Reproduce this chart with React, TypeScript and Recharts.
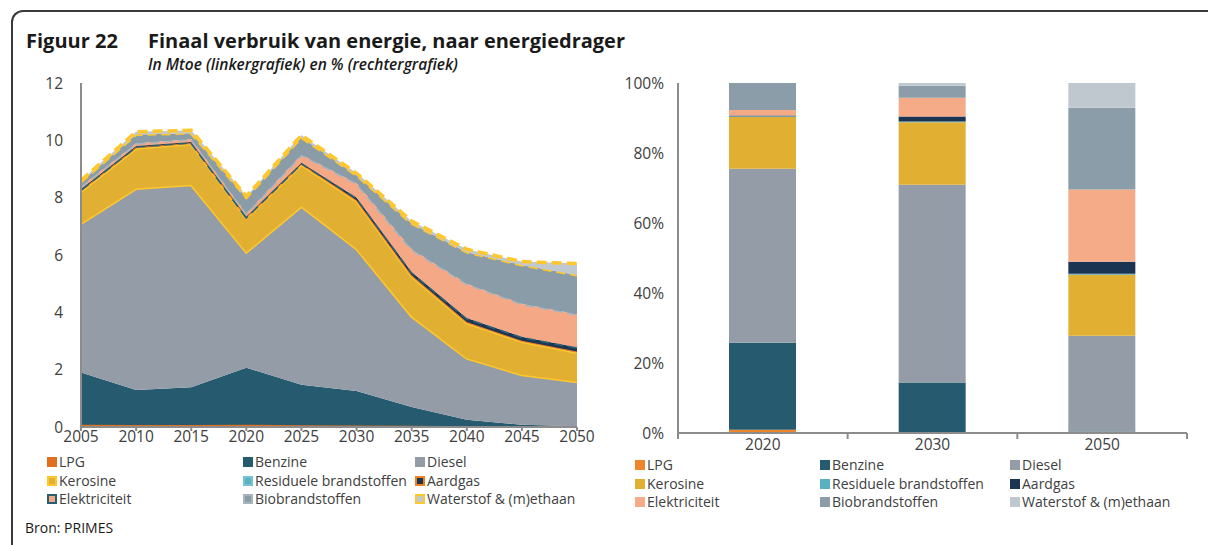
import React from 'react';
import { AreaChart, Area, BarChart, Bar, XAxis, YAxis } from 'recharts';

// Linkergrafiek: Mtoe per energiedrager
const years = ['2005', '2010', '2015', '2020', '2025', '2030', '2035', '2040', '2045', '2050'];
const lpg = [0.08, 0.07, 0.07, 0.08, 0.06, 0.05, 0.04, 0.03, 0.02, 0.02];
const benzine = [1.82, 1.22, 1.32, 1.99, 1.41, 1.21, 0.66, 0.22, 0.06, 0.01];
const diesel = [5.2, 7.03, 7.06, 4.03, 6.23, 4.96, 3.16, 2.15, 1.74, 1.55];
const kerosine = [1.12, 1.4, 1.43, 1.2, 1.45, 1.66, 1.4, 1.23, 1.16, 1.02];
const residuele = [0.04, 0.04, 0.03, 0.02, 0.03, 0.03, 0.03, 0.03, 0.03, 0.03];
const aardgas = [0.04, 0.04, 0.03, 0.02, 0.04, 0.1, 0.12, 0.14, 0.14, 0.15];
const elektriciteit = [0.1, 0.1, 0.11, 0.11, 0.28, 0.49, 0.79, 1.2, 1.15, 1.15];
const bio = [0.15, 0.3, 0.2, 0.55, 0.6, 0.28, 0.9, 1.1, 1.35, 1.37];
const waterstof = [0.05, 0.1, 0.1, 0.05, 0.08, 0.07, 0.08, 0.1, 0.12, 0.4];
const mtoeTicks = [0, 2, 4, 6, 8, 10, 12];

// Rechtergrafiek: aandeel in %
const shareYears = ['2020', '2030', '2050'];
const shareLpg = [0.9, 0.2, 0.1];
const shareBenzine = [24.9, 14.2, 0.3];
const shareDiesel = [49.7, 56.5, 27.4];
const shareKerosine = [14.8, 17.9, 17.4];
const shareResiduele = [0.2, 0.2, 0.3];
const shareAardgas = [0.2, 1.4, 3.4];
const shareElektriciteit = [1.6, 5.4, 20.7];
const shareBio = [7.7, 3.4, 23.3];
const shareWaterstof = [0, 0.8, 7.1];
const pctTicks = [0, 20, 40, 60, 80, 100];

const labels = ['LPG', 'Benzine', 'Diesel', 'Kerosine', 'Residuele brandstoffen', 'Aardgas', 'Elektriciteit', 'Biobrandstoffen', 'Waterstof & (m)ethaan'];
const keys = ['lpg', 'benzine', 'diesel', 'kerosine', 'residuele', 'aardgas', 'elektriciteit', 'bio', 'waterstof'];

const leftData = years.map((year, i) => ({
  year,
  lpg: lpg[i],
  benzine: benzine[i],
  diesel: diesel[i],
  kerosine: kerosine[i],
  residuele: residuele[i],
  aardgas: aardgas[i],
  elektriciteit: elektriciteit[i],
  bio: bio[i],
  waterstof: waterstof[i],
}));

const rightData = shareYears.map((year, i) => ({
  year,
  lpg: shareLpg[i],
  benzine: shareBenzine[i],
  diesel: shareDiesel[i],
  kerosine: shareKerosine[i],
  residuele: shareResiduele[i],
  aardgas: shareAardgas[i],
  elektriciteit: shareElektriciteit[i],
  bio: shareBio[i],
  waterstof: shareWaterstof[i],
}));

const FONT = '"Open Sans", Lato, sans-serif';
const AXIS = '#8c8c8c';
const TEXT = '#404040';

// vlakken links: vulling + zichtbare rand bovenaan
const areaStyle: Record<string, { fill: string; stroke: string; width: number; dash?: string }> = {
  lpg: { fill: '#e07020', stroke: '#e07020', width: 1.5 },
  benzine: { fill: '#265a6e', stroke: 'none', width: 0 },
  diesel: { fill: '#939ca7', stroke: '#ffc72c', width: 3 },
  kerosine: { fill: '#e1b033', stroke: '#ffc72c', width: 3 },
  residuele: { fill: '#5ab1c1', stroke: '#f08020', width: 2 },
  aardgas: { fill: '#1b3553', stroke: '#2a5f73', width: 3.5, dash: '9 5' },
  elektriciteit: { fill: '#f5a886', stroke: '#a9b4be', width: 3, dash: '9 5' },
  bio: { fill: '#8a9ca7', stroke: '#ffc72c', width: 3, dash: '9 5' },
  waterstof: { fill: '#c0c8d0', stroke: '#ffc72c', width: 3.5, dash: '10 5' },
};

const barColor: Record<string, string> = {
  lpg: '#f0862b',
  benzine: '#265a6e',
  diesel: '#939ca7',
  kerosine: '#e1b033',
  residuele: '#5aafc0',
  aardgas: '#1b3452',
  elektriciteit: '#f5aa88',
  bio: '#8a9da8',
  waterstof: '#c0c8cf',
};

// legendemarkers links (vulling + rand)
const leftMarker: Record<string, { fill: string; border: string }> = {
  lpg: { fill: '#e07020', border: '#e07020' },
  benzine: { fill: '#265a6e', border: '#265a6e' },
  diesel: { fill: '#939ca7', border: '#939ca7' },
  kerosine: { fill: '#e1b033', border: '#ffc72c' },
  residuele: { fill: '#5ab1c1', border: '#77c3cf' },
  aardgas: { fill: '#1b3553', border: '#f08020' },
  elektriciteit: { fill: '#f5a886', border: '#2a5f73' },
  bio: { fill: '#8a9ca7', border: '#a9b4be' },
  waterstof: { fill: '#c0c8d0', border: '#ffc72c' },
};

const tickStyle = { fontSize: 15.5, fill: TEXT, fontFamily: FONT };

const BarTick = (props: any) => {
  const { x, y, payload, index } = props;
  const half = 84.85;
  return (
    <g>
      <line x1={x - half} x2={x - half} y1={y - 8} y2={y - 2} stroke={AXIS} strokeWidth={2} />
      {index === shareYears.length - 1 && (
        <line x1={x + half} x2={x + half} y1={y - 8} y2={y - 2} stroke={AXIS} strokeWidth={2} />
      )}
      <text x={x} y={y + 9} textAnchor="middle" style={tickStyle}>
        {payload.value}
      </text>
    </g>
  );
};

const Legend = ({ left, top, colX, marker }: { left: number; top: number; colX: number[]; marker: (k: string) => React.ReactNode }) => (
  <div style={{ position: 'absolute', left, top }}>
    {keys.map((k, i) => (
      <div
        key={k}
        style={{
          position: 'absolute',
          left: colX[i % 3],
          top: Math.floor(i / 3) * 18.5,
          display: 'flex',
          alignItems: 'center',
          whiteSpace: 'nowrap',
          fontSize: 14,
          lineHeight: '18px',
          color: TEXT,
        }}
      >
        {marker(k)}
        <span style={{ marginLeft: 2 }}>{labels[i]}</span>
      </div>
    ))}
  </div>
);

export default function App() {
  return (
    <div
      style={{
        position: 'absolute',
        left: 0,
        top: 0,
        width: 1208,
        height: 545,
        overflow: 'hidden',
        background: '#fff',
        fontFamily: FONT,
      }}
    >
      <div
        style={{
          position: 'absolute',
          left: 11,
          top: 10,
          width: 1300,
          height: 700,
          borderTop: '2px solid #3a3a3a',
          borderLeft: '2px solid #3a3a3a',
          borderTopLeftRadius: 12,
        }}
      />
      <div style={{ position: 'absolute', left: 26, top: 30, fontSize: 20, fontWeight: 700, lineHeight: '22px', color: '#1a1a1a' }}>
        Figuur 22
      </div>
      <div style={{ position: 'absolute', left: 148, top: 30, fontSize: 20, fontWeight: 700, lineHeight: '22px', color: '#1a1a1a' }}>
        Finaal verbruik van energie, naar energiedrager
      </div>
      <div style={{ position: 'absolute', left: 148, top: 56, fontSize: 15.5, fontStyle: 'italic', fontWeight: 600, lineHeight: '16px', color: '#1a1a1a' }}>
        In Mtoe (linkergrafiek) en % (rechtergrafiek)
      </div>

      <div style={{ position: 'absolute', left: 0, top: 0 }}>
        <AreaChart width={600} height={470} data={leftData} margin={{ top: 83, right: 23, bottom: 13, left: 0 }}>
          <XAxis
            dataKey="year"
            interval={0}
            height={30}
            axisLine={{ stroke: AXIS, strokeWidth: 2 }}
            tickLine={{ stroke: AXIS, strokeWidth: 2 }}
            tickSize={4}
            tick={tickStyle}
            tickMargin={0}
          />
          <YAxis
            domain={[0, 12]}
            ticks={mtoeTicks}
            width={81}
            axisLine={{ stroke: AXIS, strokeWidth: 2 }}
            tickLine={false}
            tick={tickStyle}
            tickMargin={12}
          />
          {keys.map((k) => (
            <Area
              key={k}
              type="linear"
              dataKey={k}
              stackId="a"
              fill={areaStyle[k].fill}
              fillOpacity={1}
              stroke={areaStyle[k].stroke}
              strokeWidth={areaStyle[k].width}
              strokeDasharray={areaStyle[k].dash}
              dot={false}
              activeDot={false}
              isAnimationActive={false}
            />
          ))}
        </AreaChart>
      </div>

      <div style={{ position: 'absolute', left: 600, top: 0 }}>
        <BarChart width={608} height={470} data={rightData} margin={{ top: 83, right: 21, bottom: 7, left: 0 }}>
          <XAxis
            dataKey="year"
            interval={0}
            height={30}
            axisLine={{ stroke: AXIS, strokeWidth: 2 }}
            tickLine={false}
            tick={<BarTick />}
          />
          <YAxis
            domain={[0, 100]}
            ticks={pctTicks}
            width={78}
            axisLine={{ stroke: AXIS, strokeWidth: 2 }}
            tickLine={false}
            tick={tickStyle}
            tickMargin={8}
            tickFormatter={(v: number) => `${v}%`}
          />
          {keys.map((k) => (
            <Bar key={k} dataKey={k} stackId="s" fill={barColor[k]} barSize={67} isAnimationActive={false} />
          ))}
        </BarChart>
      </div>

      <Legend
        left={47}
        top={453}
        colX={[0, 196, 368]}
        marker={(k) => (
          <svg width={10} height={10} style={{ flex: 'none' }}>
            <rect x={1} y={1} width={8} height={8} fill={leftMarker[k].fill} stroke={leftMarker[k].border} strokeWidth={2} />
          </svg>
        )}
      />
      <Legend
        left={635}
        top={456}
        colX={[0, 185, 375]}
        marker={(k) => (
          <svg width={10} height={10} style={{ flex: 'none' }}>
            <rect x={0} y={0} width={10} height={10} fill={barColor[k]} />
          </svg>
        )}
      />

      <div style={{ position: 'absolute', left: 25, top: 519, fontSize: 14, lineHeight: '18px', color: '#1a1a1a' }}>
        Bron: PRIMES
      </div>
    </div>
  );
}
